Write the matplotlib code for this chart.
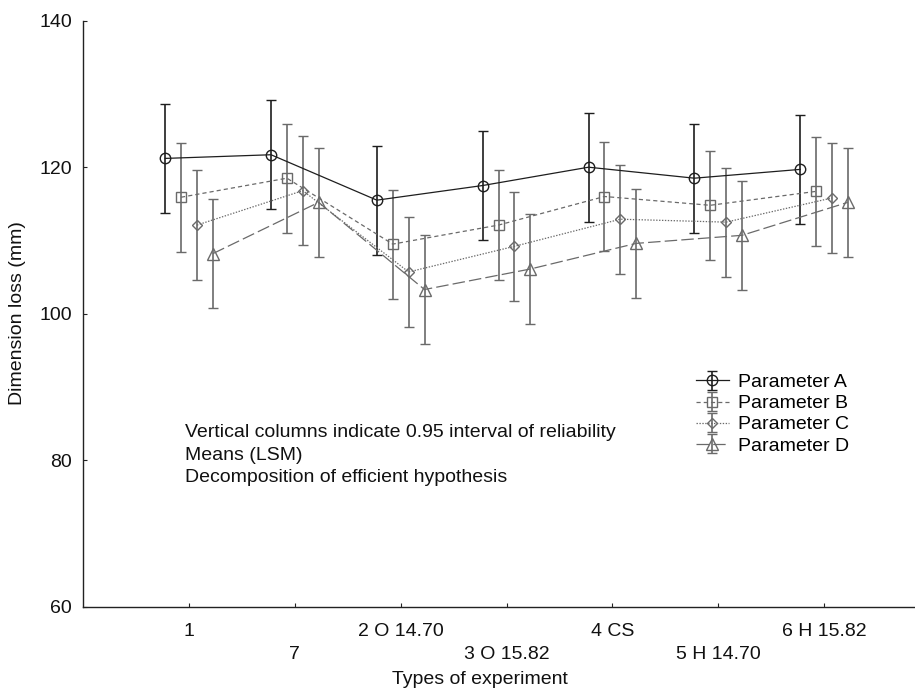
import numpy as np
import matplotlib
matplotlib.use("Agg")
import matplotlib.pyplot as plt

plt.rcParams['font.family'] = ['Liberation Sans', 'DejaVu Sans']
plt.rcParams['lines.scale_dashes'] = False

categories = ["1", "7", "2 O 14.70", "3 O 15.82", "4 CS", "5 H 14.70", "6 H 15.82"]
series_names = ["Parameter A", "Parameter B", "Parameter C", "Parameter D"]
param_a = [121.2, 121.7, 115.5, 117.5, 120.0, 118.5, 119.7]
param_b = [115.9, 118.5, 109.5, 112.1, 116.0, 114.8, 116.7]
param_c = [112.1, 116.8, 105.7, 109.2, 112.9, 112.5, 115.8]
param_d = [108.2, 115.2, 103.3, 106.1, 109.6, 110.7, 115.2]
ci_a = [7.45] * 7
ci_b = [7.45] * 7
ci_c = [7.45] * 7
ci_d = [7.45] * 7

W, H = 915, 696
fig = plt.figure(figsize=(W / 100, H / 100), dpi=100)
ax = fig.add_axes([83.2 / W, 1 - 606.7 / H, (W - 83.2) / W, (606.7 - 20.7) / H])

x = np.arange(1, len(categories) + 1)
styles = [
    dict(color='#1e1e1e', marker='o', ms=7.5, ls='-', off=-0.225),
    dict(color='#6a6a6a', marker='s', ms=7.0, ls=(0, (3, 2.2)), off=-0.075),
    dict(color='#6a6a6a', marker='D', ms=5.0, ls=(0, (1, 1.1)), off=0.075),
    dict(color='#6a6a6a', marker='^', ms=8.0, ls=(0, (9, 3)), off=0.225),
]
handles = []
for vals, err, st, name in zip([param_a, param_b, param_c, param_d],
                               [ci_a, ci_b, ci_c, ci_d], styles, series_names):
    h = ax.errorbar(x + st['off'], vals, yerr=err, color=st['color'],
                    marker=st['marker'], ms=st['ms'], mfc='none', mec=st['color'],
                    mew=1.0, ls=st['ls'], lw=0.9, elinewidth=1.2,
                    capsize=3.6, capthick=1.2, label=name)
    handles.append(h)

ax.set_xlim(0, (W - 83.2) / 105.83)
ax.set_ylim(60, 140)
ax.set_yticks([60, 80, 100, 120, 140])
ax.set_xticks(x)
ax.set_xticklabels([c if i % 2 == 0 else "\n" + c for i, c in enumerate(categories)])
ax.spines['top'].set_visible(False)
ax.spines['right'].set_visible(False)
for s in ['left', 'bottom']:
    ax.spines[s].set_linewidth(1.0)
    ax.spines[s].set_color('#222222')
ax.tick_params(direction='in', length=3, width=0.8, labelsize=14, colors='#222222')
ax.tick_params(axis='x', pad=12)
ax.tick_params(axis='y', pad=8)
for lab in ax.get_xticklabels() + ax.get_yticklabels():
    lab.set_color('#111111')
for lab in ax.get_xticklabels():
    lab.set_linespacing(1.45)

fig.text(480 / W, 1 - 680 / H, "Types of experiment", ha='center', va='center',
         fontsize=14, color='#111111')
fig.text(18 / W, 1 - 313 / H, "Dimension loss (mm)", ha='center', va='center',
         rotation=90, fontsize=14, color='#111111')
fig.text(185 / W, 1 - 424 / H,
         "Vertical columns indicate 0.95 interval of reliability\nMeans (LSM)\nDecomposition of efficient hypothesis",
         ha='left', va='top', fontsize=14, linespacing=1.44, color='#111111')

ax.legend(handles=handles, loc='upper left', bbox_to_anchor=(682 / W, 1 - 360 / H),
          bbox_transform=fig.transFigure, frameon=False, fontsize=14,
          handlelength=1.7, handletextpad=0.5, labelspacing=0.18, borderpad=0.2)

fig.savefig("out.png", dpi=100)
